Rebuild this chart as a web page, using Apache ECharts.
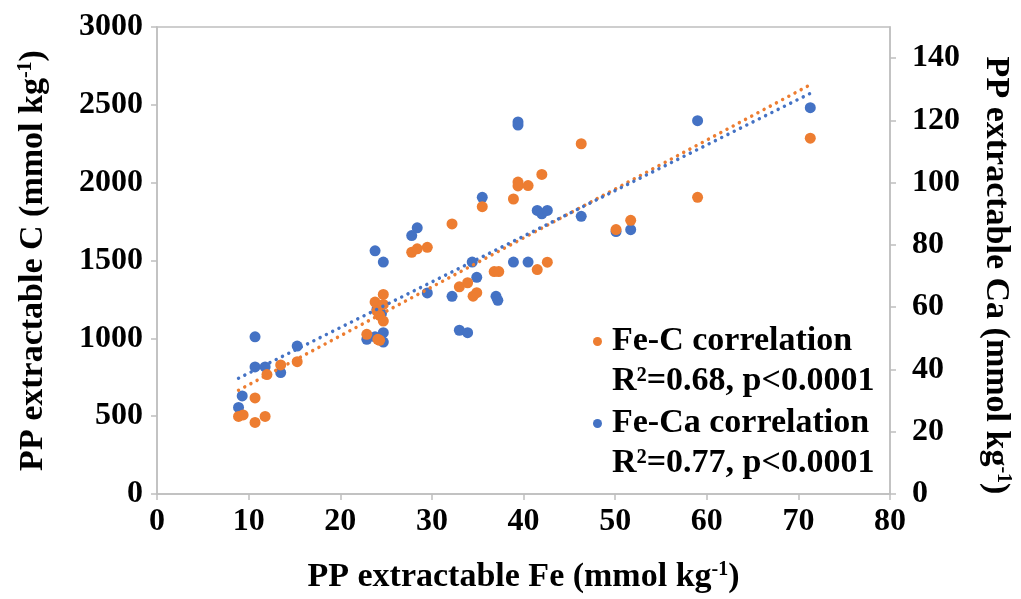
<!DOCTYPE html>
<html>
<head>
<meta charset="utf-8">
<script src="https://cdn.jsdelivr.net/npm/echarts@6/dist/echarts.min.js"></script>
<style>html,body{margin:0;padding:0;background:#fff;}#c{width:1021px;height:599px;}</style>
</head>
<body>
<div id="c"></div>
<script>
// Fe-C pairs (Fe mmol/kg, C mmol/kg)
const feC = [8.9, 9.4, 10.7, 10.7, 11.8, 12.0, 13.5, 15.3, 22.9, 23.8, 24.0, 24.3, 24.1, 24.3, 24.7, 24.7, 24.7, 27.8, 28.4, 29.5, 32.2, 33.0, 33.9, 34.5, 34.9, 35.5, 36.8, 37.3, 38.9, 39.4, 39.4, 40.5, 41.5, 42.0, 42.6, 46.3, 50.1, 51.7, 59.0, 71.3];
const cVals = [498, 508, 617, 460, 498, 767, 829, 850, 1026, 1233, 1175, 1147, 994, 987, 1282, 1218, 1111, 1553, 1575, 1585, 1735, 1331, 1357, 1271, 1293, 1846, 1429, 1429, 1895, 2004, 1979, 1981, 1442, 2053, 1489, 2250, 1699, 1758, 1906, 2286];
// Fe-Ca pairs (Fe mmol/kg, Ca mmol/kg)
const feCa = [8.9, 9.3, 10.7, 10.7, 11.8, 13.5, 15.3, 22.9, 23.8, 23.8, 24.0, 24.5, 24.7, 24.7, 24.7, 27.8, 28.4, 29.5, 32.2, 33.0, 33.9, 34.4, 34.9, 35.5, 37.0, 37.2, 38.9, 39.4, 39.4, 40.5, 41.5, 42.0, 42.6, 46.3, 50.1, 51.7, 59.0, 71.3];
const caVals = [27.8, 31.5, 50.5, 40.8, 40.8, 39.0, 47.5, 49.7, 78.1, 50.5, 59.3, 58.0, 74.5, 51.8, 48.8, 83.0, 85.5, 64.6, 63.5, 52.6, 51.8, 74.5, 69.6, 95.3, 63.5, 62.2, 74.5, 119.5, 118.5, 74.5, 91.1, 90.0, 91.1, 89.2, 84.3, 84.9, 119.9, 124.1];
const xTicks = [0, 10, 20, 30, 40, 50, 60, 70, 80];
const leftTicks = [0, 500, 1000, 1500, 2000, 2500, 3000];
const rightTicks = [0, 20, 40, 60, 80, 100, 120, 140];
const names = ['Fe-C correlation', 'Fe-Ca correlation'];
const stats = ['R²=0.68, p<0.0001', 'R²=0.77, p<0.0001'];

function fit(xs, ys) {
  const n = xs.length;
  let sx = 0, sy = 0, sxx = 0, sxy = 0;
  for (let i = 0; i < n; i++) { sx += xs[i]; sy += ys[i]; sxx += xs[i] * xs[i]; sxy += xs[i] * ys[i]; }
  const b = (n * sxy - sx * sy) / (n * sxx - sx * sx);
  const a = (sy - b * sx) / n;
  const x0 = Math.min(...xs), x1 = Math.max(...xs);
  return [[x0, a + b * x0], [x1, a + b * x1]];
}
const zip = (a, b) => a.map((v, i) => [v, b[i]]);

const ORANGE = '#ED7D31', BLUE = '#4472C4';
const FONT = 'Liberation Serif';
const axisGray = '#bfbfbf';
const rich = {
  t: { fontFamily: FONT, fontWeight: 'bold', fontSize: 34, color: '#000' },
  s: { fontFamily: FONT, fontWeight: 'bold', fontSize: 20, color: '#000', verticalAlign: 'top', padding: [0, 0, 14, 0] }
};
const labelStyle = { fontFamily: FONT, fontWeight: 'bold', fontSize: 32, color: '#000', formatter: v => String(v) };

const chart = echarts.init(document.getElementById('c'), null, { renderer: 'canvas' });
chart.setOption({
  animation: false,
  backgroundColor: '#fff',
  grid: { left: 157, right: 127, top: 27, bottom: 104, show: true, borderColor: axisGray, borderWidth: 1.5, backgroundColor: 'transparent' },
  legend: {
    data: names.map((n, i) => ({ name: n, icon: 'circle', itemStyle: { color: i ? BLUE : ORANGE } })),
    orient: 'vertical', left: 593, top: 321, padding: 0,
    itemWidth: 19, itemHeight: 9, itemGap: 41,
    textStyle: { fontFamily: FONT, fontWeight: 'bold', fontSize: 34, color: '#000', lineHeight: 41 },
    selectedMode: false
  },
  graphic: stats.map((s, i) => ({
    type: 'text', left: 612, top: 383 + i * 82 - 19,
    style: { text: s, fontFamily: FONT, fontWeight: 'bold', fontSize: 34, fill: '#000' }
  })),
  xAxis: {
    type: 'value', min: 0, max: 80, interval: 10,
    axisLine: { show: true, lineStyle: { color: axisGray, width: 1.5 } },
    axisTick: { show: true, length: 6, lineStyle: { color: axisGray, width: 1.5 }, customValues: xTicks },
    splitLine: { show: false },
    axisLabel: Object.assign({ margin: 12, customValues: xTicks }, labelStyle),
    name: '{t|PP extractable Fe (mmol kg}{s|-1}{t|)}',
    nameLocation: 'middle', nameGap: 66,
    nameTextStyle: { rich: rich }
  },
  yAxis: [{
    type: 'value', min: 0, max: 3000, interval: 500,
    axisLine: { show: true, lineStyle: { color: axisGray, width: 1.5 } },
    axisTick: { show: true, length: 6, lineStyle: { color: axisGray, width: 1.5 }, customValues: leftTicks },
    splitLine: { show: false },
    axisLabel: Object.assign({ margin: 14, customValues: leftTicks }, labelStyle),
    name: '{t|PP extractable C (mmol kg}{s|-1}{t|)}',
    nameLocation: 'middle', nameGap: 107, nameRotate: 90,
    nameTextStyle: { rich: rich }
  }, {
    type: 'value', min: 0, max: 150, interval: 20, position: 'right',
    axisLine: { show: true, lineStyle: { color: axisGray, width: 1.5 } },
    axisTick: { show: true, length: 6, lineStyle: { color: axisGray, width: 1.5 }, customValues: rightTicks },
    splitLine: { show: false },
    axisLabel: Object.assign({ margin: 22, customValues: rightTicks }, labelStyle),
    name: '{t|PP extractable Ca (mmol kg}{s|-1}{t|)}',
    nameLocation: 'middle', nameGap: 89, nameRotate: -90,
    nameTextStyle: { rich: rich, padding: [0, 0, 0, 30] }
  }],
  series: [{
    name: names[1], type: 'scatter', yAxisIndex: 1, symbolSize: 11,
    itemStyle: { color: BLUE, opacity: 1 }, data: zip(feCa, caVals), z: 2
  }, {
    name: names[0], type: 'scatter', yAxisIndex: 0, symbolSize: 11,
    itemStyle: { color: ORANGE, opacity: 1 }, data: zip(feC, cVals), z: 3
  }, {
    name: 'trendC', type: 'line', yAxisIndex: 0, showSymbol: false, symbol: 'none', silent: true,
    lineStyle: { color: ORANGE, width: 3.5, type: [0.01, 7], cap: 'round' },
    data: fit(feC, cVals), z: 4
  }, {
    name: 'trendCa', type: 'line', yAxisIndex: 1, showSymbol: false, symbol: 'none', silent: true,
    lineStyle: { color: BLUE, width: 3.5, type: [0.01, 7], cap: 'round' },
    data: fit(feCa, caVals), z: 4
  }]
});
</script>
</body>
</html>
